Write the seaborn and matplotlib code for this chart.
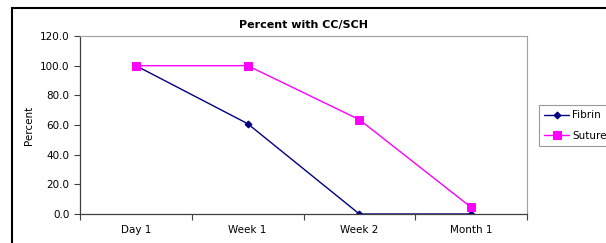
import matplotlib
matplotlib.use("Agg")
import matplotlib.pyplot as plt
import matplotlib.patches as mpatches
from matplotlib.ticker import FixedLocator, FormatStrFormatter
import pandas as pd
import seaborn as sns

# données
timepoints = ["Day 1", "Week 1", "Week 2", "Month 1"]
fibrin = [100.0, 60.9, 0.0, 0.0]
suture = [100.0, 100.0, 63.6, 4.5]

df = pd.DataFrame({
    "time": timepoints * 2,
    "value": fibrin + suture,
    "group": ["Fibrin"] * 4 + ["Suture"] * 4,
})

sns.set_style("white")
plt.rcParams["font.family"] = ["DejaVu Sans"]
plt.rcParams["text.color"] = "black"
plt.rcParams["axes.labelcolor"] = "black"
plt.rcParams["xtick.labelcolor"] = "black"
plt.rcParams["ytick.labelcolor"] = "black"

fig = plt.figure(figsize=(6.06, 2.43), dpi=100)
ax = fig.add_axes([80 / 606, 1 - 214 / 243, 447 / 606, 178 / 243])

palette = {"Fibrin": "#000080", "Suture": "#FF00FF"}
markers = {"Fibrin": "D", "Suture": "s"}
sizes = {"Fibrin": 3.5, "Suture": 5.5}
for g in ["Fibrin", "Suture"]:
    sub = df[df["group"] == g]
    sns.lineplot(data=sub, x="time", y="value", ax=ax, color=palette[g],
                 marker=markers[g], markersize=sizes[g], markeredgecolor=palette[g],
                 linewidth=1, label=g, sort=False, legend=False)

ax.set_xlim(-0.5, 3.5)
ax.set_ylim(0, 120)
ax.set_yticks([0, 20, 40, 60, 80, 100, 120])
ax.yaxis.set_major_formatter(FormatStrFormatter("%.1f"))
ax.set_xticks(range(4))
ax.set_xticklabels(timepoints)
ax.xaxis.set_minor_locator(FixedLocator([-0.5, 0.5, 1.5, 2.5, 3.5]))
ax.tick_params(axis="x", which="major", length=0, pad=8, labelsize=7.5, labelcolor="black")
ax.tick_params(axis="x", which="minor", length=4, width=0.8, color="#404040", direction="out", bottom=True)
ax.tick_params(axis="y", length=4, width=0.8, color="#404040", direction="out", left=True,
               labelsize=7.5, labelcolor="black")
ax.set_xlabel("")
ax.set_ylabel("Percent", fontsize=7.5, color="black")
ax.set_title("Percent with CC/SCH", fontsize=8, fontweight="bold", pad=6, color="black")

for side in ["left", "bottom"]:
    ax.spines[side].set_color("#404040")
    ax.spines[side].set_linewidth(0.9)
for side in ["top", "right"]:
    ax.spines[side].set_color("#a0a0a0")
    ax.spines[side].set_linewidth(0.8)

handles, labels = ax.get_legend_handles_labels()
leg = fig.legend(handles, labels, loc="upper left",
                 bbox_to_anchor=(539 / 606, 1 - 105 / 243),
                 fontsize=7.5, frameon=True, fancybox=False, borderpad=0.5,
                 handlelength=2.4, handletextpad=0.3, labelspacing=1.0, borderaxespad=0,
                 labelcolor="black")
leg.get_frame().set_edgecolor("#808080")
leg.get_frame().set_linewidth(0.8)

# cadre extérieur
fig.patches.append(mpatches.Rectangle((12 / 606, -0.1), 1.2, 1 - 8 / 243 + 0.1,
                                      transform=fig.transFigure, fill=False,
                                      edgecolor="black", linewidth=1.5))

fig.savefig("out.png", dpi=100)
